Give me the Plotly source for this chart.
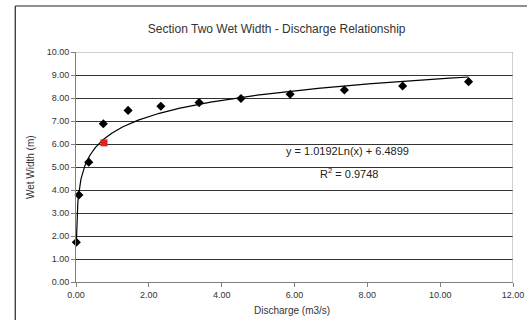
import numpy as np
import plotly.graph_objects as go

discharge = [0.0094, 0.08, 0.35, 0.75, 1.43, 2.33, 3.38, 4.53, 5.88, 7.37, 8.97, 10.78]
wet_width = [1.73, 3.78, 5.21, 6.88, 7.46, 7.64, 7.80, 7.98, 8.16, 8.35, 8.52, 8.71]
red_x = [0.77]
red_y = [6.05]
fit_a = 1.0192
fit_b = 6.4899
x_ticks = [0, 2, 4, 6, 8, 10, 12]
y_ticks = [0, 1, 2, 3, 4, 5, 6, 7, 8, 9, 10]

fx = np.linspace(min(discharge), max(discharge), 800)
fy = fit_a * np.log(fx) + fit_b

font = "Liberation Sans, Arial, sans-serif"
fig = go.Figure()
fig.add_trace(go.Scatter(x=fx, y=fy, mode="lines", line=dict(color="black", width=1.2),
                         hoverinfo="skip", showlegend=False, cliponaxis=False))
fig.add_trace(go.Scatter(x=discharge, y=wet_width, mode="markers",
                         marker=dict(symbol="diamond", size=7, color="black"),
                         showlegend=False, cliponaxis=False))
fig.add_trace(go.Scatter(x=red_x, y=red_y, mode="markers",
                         marker=dict(symbol="square", size=7, color="#e8201a"),
                         showlegend=False, cliponaxis=False))

fig.update_layout(
    width=527, height=320,
    margin=dict(l=76, r=14, t=52, b=38),
    paper_bgcolor="white", plot_bgcolor="white",
    font=dict(family=font, color="#333", size=9),
    title=dict(text="Section Two Wet Width - Discharge Relationship",
               x=0.525, xanchor="center", y=0.91, yanchor="middle",
               font=dict(size=12, color="#333")),
    xaxis=dict(range=[0, 12], tickvals=x_ticks, tickformat=".2f", automargin=False,
               showgrid=False, zeroline=False, showline=True, linecolor="#808080",
               ticks="outside", ticklen=4, tickcolor="#808080"),
    yaxis=dict(range=[0, 10], tickvals=y_ticks, tickformat=".2f", automargin=False,
               showgrid=True, gridcolor="#333", gridwidth=1, zeroline=False,
               showline=True, linecolor="#808080",
               ticks="outside", ticklen=4, tickcolor="#808080"),
    shapes=[
        dict(type="line", xref="x", yref="y", x0=0, x1=12, y0=10, y1=10,
             line=dict(color="#a0a0a0", width=1)),
        dict(type="line", xref="x", yref="y", x0=12, x1=12, y0=0, y1=10,
             line=dict(color="#a0a0a0", width=1)),
        dict(type="line", xref="paper", yref="paper", x0=-0.139, x1=-0.139, y0=-0.2, y1=1.2,
             line=dict(color="#222", width=1.2)),
        dict(type="line", xref="paper", yref="paper", x0=-0.139, x1=1.04, y0=1.2, y1=1.2,
             line=dict(color="#222", width=1.2)),
    ],
    annotations=[
        dict(text="Discharge (m3/s)", xref="paper", yref="paper", x=0.495, y=-0.122,
             xanchor="center", yanchor="middle", showarrow=False, font=dict(size=10, color="#333")),
        dict(text="Wet Width (m)", xref="paper", yref="paper", x=-0.105, y=0.5,
             xanchor="center", yanchor="middle", textangle=-90, showarrow=False,
             font=dict(size=10, color="#333")),
        dict(text=f"y = {fit_a:.4f}Ln(x) + {fit_b:.4f}", xref="x", yref="y",
             x=7.45, y=5.7, showarrow=False, font=dict(size=11, color="#222")),
        dict(text="R<sup>2</sup> = 0.9748", xref="x", yref="y",
             x=7.5, y=4.75, showarrow=False, font=dict(size=11, color="#222")),
    ],
)
fig.write_html("out.html", config={"displayModeBar": False},
               post_script="document.body.style.margin='0';document.body.style.overflow='hidden';")
